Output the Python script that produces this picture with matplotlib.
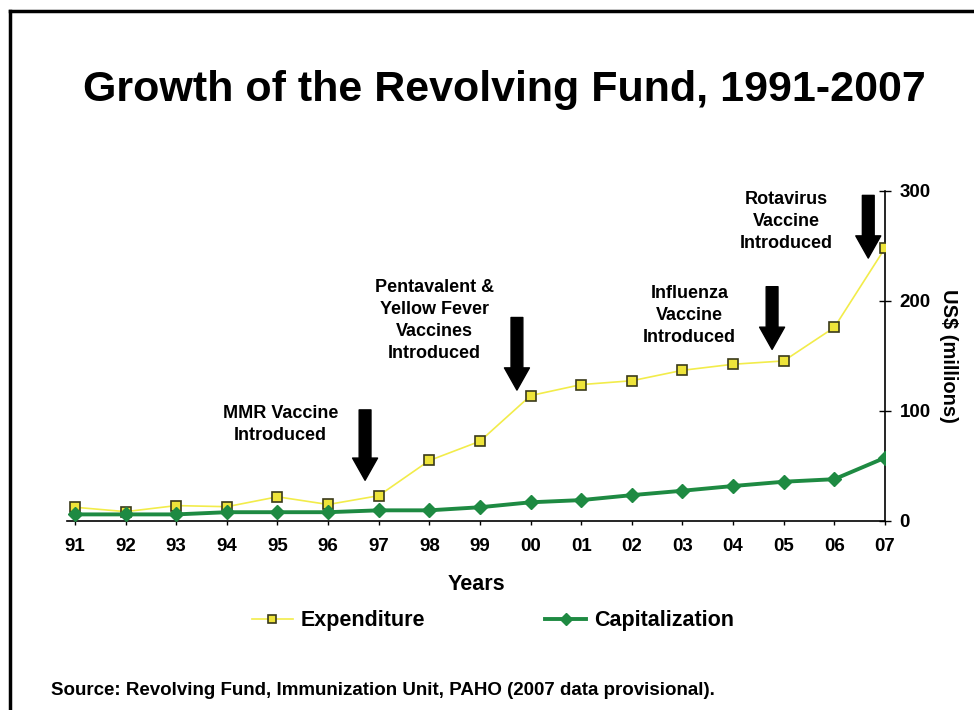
import matplotlib
matplotlib.use("Agg")
import matplotlib.pyplot as plt
from matplotlib.lines import Line2D

plt.rcParams['font.family'] = ['Liberation Sans', 'DejaVu Sans']
plt.rcParams['font.weight'] = 'bold'

years = ["91", "92", "93", "94", "95", "96", "97", "98", "99",
         "00", "01", "02", "03", "04", "05", "06", "07"]
expenditure = [12.5, 8.5, 14, 13, 22, 15, 23, 55, 72.5,
               114, 124, 127.5, 137, 142.5, 145.5, 176, 248]
capitalization = [6, 6, 6, 8, 8, 8, 9.7, 9.7, 12.5,
                  17, 19, 23.5, 27.5, 31.8, 35.7, 38, 57.5]
y_ticks = [0, 100, 200, 300]

# annotations: (label, text x, text y, arrow x, arrow top, arrow tip)
notes = [
    ("MMR Vaccine\nIntroduced", 4.06, 88, 5.73, 101, 37),
    ("Pentavalent &\nYellow Fever\nVaccines\nIntroduced", 7.1, 182, 8.73, 185, 119),
    ("Influenza\nVaccine\nIntroduced", 12.14, 187, 13.77, 213, 156),
    ("Rotavirus\nVaccine\nIntroduced", 14.05, 272, 15.67, 296, 239),
]

fig = plt.figure(figsize=(9.74, 7.10), dpi=100)
ax = fig.add_axes([0.0692, 0.2662, 0.8394, 0.4648])

x = list(range(len(years)))
ax.plot(x, expenditure, color='#F2EC4A', lw=1.2, marker='s', markersize=7.5,
        markerfacecolor='#EEE43A', markeredgecolor='#3A3A1A', markeredgewidth=1.2,
        label='Expenditure', zorder=3)
ax.plot(x, capitalization, color='#1E8A42', lw=2.8, marker='D', markersize=7,
        markerfacecolor='#1E8A42', markeredgecolor='#1E8A42',
        label='Capitalization', zorder=3)

ax.set_xlim(-0.15, 16)
ax.set_ylim(0, 300)
ax.set_xticks(x)
ax.set_xticklabels(years, fontsize=13.5, fontweight='bold')
ax.yaxis.tick_right()
ax.yaxis.set_label_position('right')
ax.set_yticks(y_ticks)
ax.set_yticklabels([str(v) for v in y_ticks], fontsize=13.5, fontweight='bold')
ax.tick_params(axis='y', direction='inout', length=9, width=1, pad=6)
ax.tick_params(axis='x', direction='out', length=3, width=1, pad=9)
for s in ['top', 'left']:
    ax.spines[s].set_visible(False)
ax.spines['bottom'].set_linewidth(1.2)
ax.spines['right'].set_linewidth(1.2)

ax.set_xlabel('Years', fontsize=15.5, fontweight='bold', labelpad=14)
ax.set_ylabel('US$ (millions)', fontsize=14.5, fontweight='bold', rotation=-90, labelpad=20)

for label, tx, ty, axx, atop, atip in notes:
    ax.text(tx, ty, label, ha='center', va='center', fontsize=13,
            fontweight='bold', linespacing=1.38)
    ax.annotate('', xy=(axx, atip), xytext=(axx, atop),
                arrowprops=dict(arrowstyle='simple,head_length=1.6,head_width=1.8,tail_width=0.85',
                                color='black', shrinkA=0, shrinkB=0), zorder=4)

fig.text(0.5175, 0.873, 'Growth of the Revolving Fund, 1991-2007', ha='center', va='center',
         fontsize=31, fontweight='bold')

leg = fig.legend(handles=ax.get_lines(), labels=['Expenditure', 'Capitalization'],
                 loc='center', bbox_to_anchor=(0.506, 0.126), ncol=2, frameon=False,
                 handlelength=1.9, columnspacing=5.6, handletextpad=0.35,
                 prop={'weight': 'bold', 'size': 15.5})
for h in leg.legend_handles:
    h.set_markersize(6)

fig.text(0.052, 0.027, 'Source: Revolving Fund, Immunization Unit, PAHO (2007 data provisional).',
         ha='left', va='center', fontsize=13.5, fontweight='bold')

# slide border lines (top and left)
fig.add_artist(Line2D([0.0105, 1.0], [0.984, 0.984], transform=fig.transFigure,
                      color='black', lw=2.5))
fig.add_artist(Line2D([0.0105, 0.0105], [0.0, 0.984], transform=fig.transFigure,
                      color='black', lw=2.5))

fig.savefig('out.png', dpi=100)
